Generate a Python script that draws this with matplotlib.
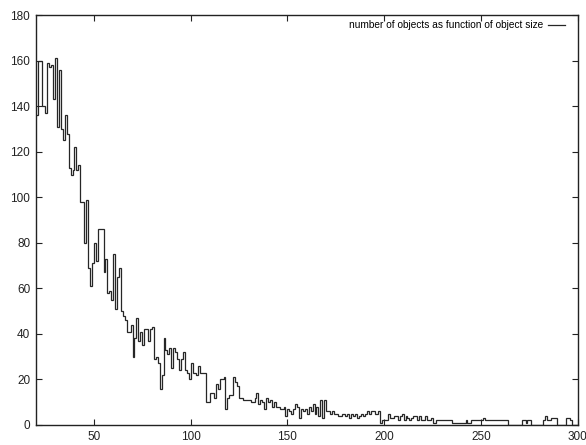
import numpy as np
import matplotlib
matplotlib.use('Agg')
from matplotlib import pyplot as plt

plt.rcParams['font.family'] = ['Liberation Sans', 'DejaVu Sans']

# object size bins start at 20, one bin per unit up to 300
x_start = 20
counts = [
    136, 160, 160, 140, 140, 137, 159, 157, 158, 143,   # 20-29
    161, 131, 156, 130, 125, 136, 128, 113, 110, 112,   # 30-39
    122, 112, 114, 98, 98, 80, 99, 69, 61, 71,          # 40-49
    80, 72, 86, 86, 86, 67, 73, 58, 59, 55,             # 50-59
    75, 51, 65, 69, 50, 48, 46, 41, 41, 44,             # 60-69
    30, 38, 47, 37, 41, 35, 42, 42, 37, 42,             # 70-79
    43, 29, 30, 27, 16, 22, 38, 33, 31, 34,             # 80-89
    25, 34, 32, 29, 24, 29, 32, 24, 23, 20,             # 90-99
    27, 23, 23, 22, 26, 23, 23, 23, 10, 10,             # 100-109
    14, 14, 12, 18, 16, 20, 20, 21, 7, 12,              # 110-119
    13, 13, 21, 19, 17, 12, 12, 11, 11, 11,             # 120-129
    11, 10, 10, 12, 14, 9, 11, 10, 7, 12,               # 130-139
    10, 11, 8, 10, 8, 8, 7, 7, 8, 4,                    # 140-149
    7, 6, 5, 7, 9, 8, 3, 7, 6, 7,                       # 150-159
    5, 8, 6, 9, 5, 8, 4, 11, 3, 11,                     # 160-169
    6, 6, 5, 6, 5, 5, 4, 4, 5, 5,                       # 170-179
    4, 5, 3, 5, 4, 5, 3, 4, 5, 4,                       # 180-189
    5, 6, 5, 6, 6, 5, 5, 6, 1, 2,                       # 190-199
    2, 2, 5, 3, 3, 4, 4, 2, 4, 5,                       # 200-209
    2, 4, 3, 2, 3, 4, 4, 2, 4, 2,                       # 210-219
    2, 4, 2, 2, 3, 1, 1, 2, 2, 2,                       # 220-229
    2, 2, 2, 2, 2, 1, 1, 1, 1, 1,                       # 230-239
    1, 1, 2, 1, 1, 2, 2, 2, 2, 2,                       # 240-249
    2, 3, 2, 2, 2, 2, 2, 2, 2, 2,                       # 250-259
    2, 2, 2, 2, 0, 0, 0, 0, 0, 0,                       # 260-269
    0, 2, 2, 1, 2, 2, 0, 0, 0, 0,                       # 270-279
    0, 0, 2, 4, 2, 2, 3, 3, 3, 0,                       # 280-289
    0, 0, 0, 0, 3, 3, 2, 0, 0, 0,                       # 290-299
]
edges = np.arange(x_start, x_start + len(counts) + 1)

x_ticks = [50, 100, 150, 200, 250, 300]
y_ticks = [0, 20, 40, 60, 80, 100, 120, 140, 160, 180]
label = 'number of objects as function of object size'

fig = plt.figure(figsize=(5.86, 4.45), dpi=100)
ax = fig.add_axes([0.061, 0.045, 0.925, 0.921])

ax.stairs(counts, edges, baseline=None, color='#262626', linewidth=0.9, label=label)

ax.set_xlim(20, 300)
ax.set_ylim(0, 180)
ax.set_xticks(x_ticks)
ax.set_yticks(y_ticks)
ax.tick_params(direction='in', top=True, right=True, length=4, width=0.8,
               labelsize=8.5, pad=4, colors='#222222')
for s in ax.spines.values():
    s.set_linewidth(1.0)
    s.set_color('#222222')

ax.legend(loc='upper right', bbox_to_anchor=(0.985, 1.0), frameon=False,
          markerfirst=False, handlelength=1.6, handletextpad=0.5,
          fontsize=7.3, borderaxespad=0.1)

fig.savefig('out.png', dpi=100)
